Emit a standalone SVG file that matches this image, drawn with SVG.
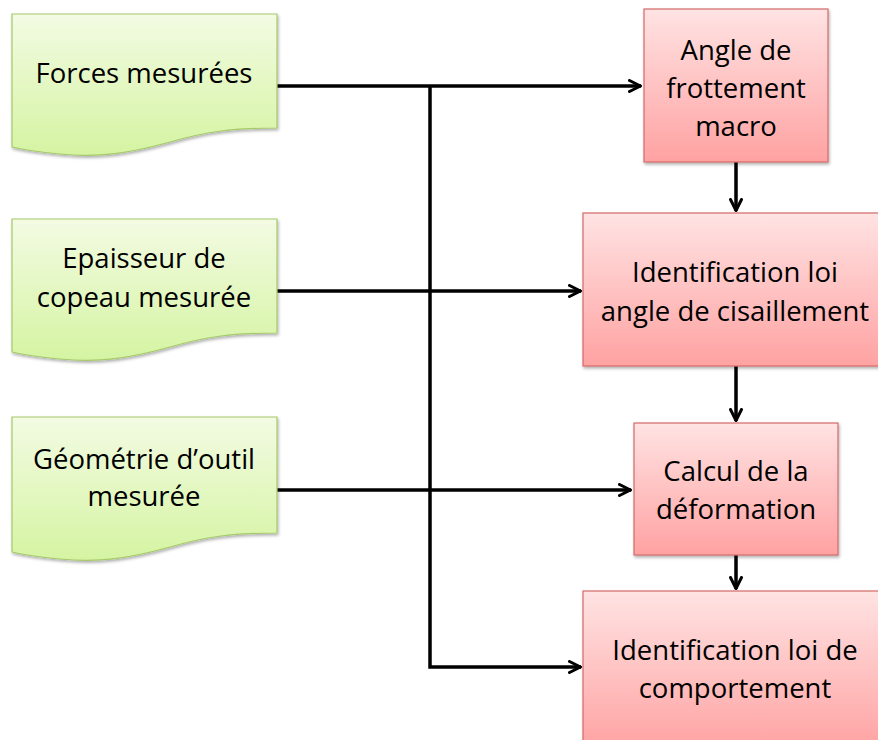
<svg xmlns="http://www.w3.org/2000/svg" width="878" height="740" viewBox="0 0 878 740">
<defs>
<linearGradient id="gG" x1="0" y1="0" x2="0" y2="1">
<stop offset="0" stop-color="#f3fbe3"/><stop offset="1" stop-color="#d5f4a2"/>
</linearGradient>
<linearGradient id="gP" x1="0" y1="0" x2="0" y2="1">
<stop offset="0" stop-color="#ffe3e3"/><stop offset="1" stop-color="#ffa2a2"/>
</linearGradient>
<filter id="sh" x="-10%" y="-10%" width="120%" height="130%">
<feDropShadow dx="1" dy="2" stdDeviation="1.5" flood-color="#000" flood-opacity="0.3"/>
</filter>
<marker id="ah" viewBox="0 0 14 14" refX="13" refY="7" markerWidth="14" markerHeight="14" markerUnits="userSpaceOnUse" orient="auto">
<path d="M1.5,1.5 L12.5,7 L1.5,12.5" fill="none" stroke="#000" stroke-width="3" stroke-linecap="round" stroke-linejoin="round"/>
</marker>
</defs>
<style>
.doc{fill:url(#gG);stroke:#a6c96a;stroke-width:1.2;filter:url(#sh)}
.box{fill:url(#gP);stroke:#d46a6a;stroke-width:1.2;filter:url(#sh)}
text{font-family:"Open Sans","Liberation Sans",sans-serif;font-size:27.5px;fill:#000;text-anchor:middle}
.c{fill:none;stroke:#000;stroke-width:3.5}
</style>
<g id="connectors">
<path class="c" d="M277,86 H641" marker-end="url(#ah)"/>
<path class="c" d="M430,86 V667 H581" marker-end="url(#ah)"/>
<path class="c" d="M277,291 H581" marker-end="url(#ah)"/>
<path class="c" d="M277,490 H631" marker-end="url(#ah)"/>
<path class="c" d="M736,162 V211" marker-end="url(#ah)"/>
<path class="c" d="M736,366 V421" marker-end="url(#ah)"/>
<path class="c" d="M736,555 V589" marker-end="url(#ah)"/>
</g>
<g id="doc1">
<path class="doc" d="M12,14 H277 V128 C230,128 205,132 170,142 C130,153 100,158 60,154 C40,152 25,150 12,147 Z"/>
<text x="144" y="83">Forces mesurées</text>
</g>
<g id="doc2">
<path class="doc" d="M12,219 H277 V333 C230,333 205,337 170,347 C130,358 100,363 60,359 C40,357 25,355 12,352 Z"/>
<text x="144" y="268">Epaisseur de</text>
<text x="144" y="307">copeau mesurée</text>
</g>
<g id="doc3">
<path class="doc" d="M12,417 H277 V533 C230,533 205,537 170,547 C130,558 100,563 60,559 C40,557 25,555 12,552 Z"/>
<text x="144" y="469">Géométrie d’outil</text>
<text x="144" y="506">mesurée</text>
</g>
<g id="box1">
<rect class="box" x="644" y="9" width="184" height="153"/>
<text x="736" y="60">Angle de</text>
<text x="736" y="98">frottement</text>
<text x="736" y="136">macro</text>
</g>
<g id="box2">
<rect class="box" x="583" y="213" width="300" height="153"/>
<text x="735" y="282">Identification loi</text>
<text x="735" y="321">angle de cisaillement</text>
</g>
<g id="box3">
<rect class="box" x="634" y="423" width="204" height="132"/>
<text x="736" y="481">Calcul de la</text>
<text x="736" y="519">déformation</text>
</g>
<g id="box4">
<rect class="box" x="583" y="591" width="300" height="160"/>
<text x="735" y="660">Identification loi de</text>
<text x="735" y="698">comportement</text>
</g>
</svg>
